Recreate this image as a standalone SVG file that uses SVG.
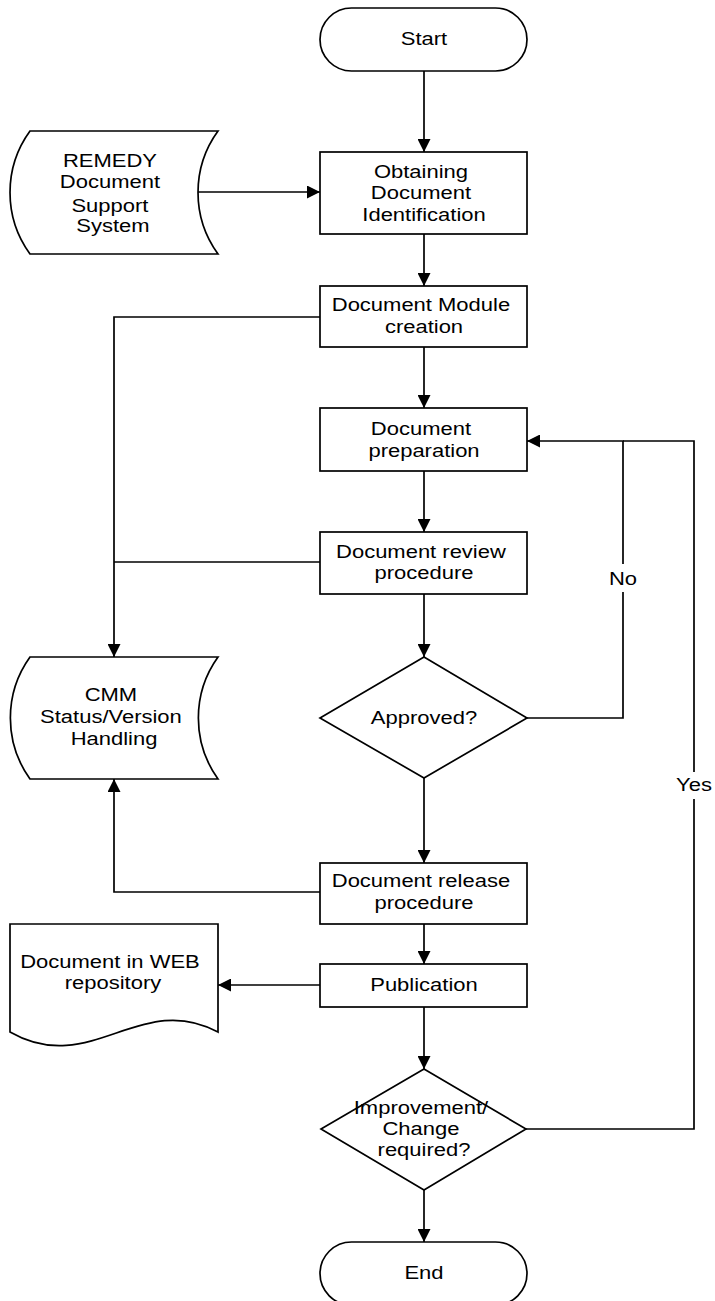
<svg xmlns="http://www.w3.org/2000/svg" width="715" height="1301" viewBox="0 0 715 1301">
  <style>
    .shape { fill: #ffffff; stroke: #000000; stroke-width: 1.7; }
    .wire { fill: none; stroke: #000000; stroke-width: 1.7; }
    .lbl { font-family: "Liberation Sans", Arial, sans-serif; font-size: 17.5px; fill: #000000; text-anchor: middle; }
    .gap { fill: #ffffff; stroke: none; }
  </style>
  <defs>
    <marker id="arrow" markerUnits="userSpaceOnUse" markerWidth="13" markerHeight="13" refX="13" refY="6.5" orient="auto">
      <path d="M0,0 L13,6.5 L0,13 Z" fill="#000000"/>
    </marker>
  </defs>

  <rect width="715" height="1301" fill="#ffffff"/>

  <!-- connectors -->
  <g id="connectors">
    <path class="wire" d="M424,71 V152" marker-end="url(#arrow)"/>
    <path class="wire" d="M198,192 H320" marker-end="url(#arrow)"/>
    <path class="wire" d="M424,234 V286" marker-end="url(#arrow)"/>
    <path class="wire" d="M320,317 H114 V657" marker-end="url(#arrow)"/>
    <path class="wire" d="M424,347 V408" marker-end="url(#arrow)"/>
    <path class="wire" d="M424,471 V532" marker-end="url(#arrow)"/>
    <path class="wire" d="M320,562 H114"/>
    <path class="wire" d="M424,594 V657" marker-end="url(#arrow)"/>
    <path class="wire" d="M527,718 H623 V441 H527" marker-end="url(#arrow)"/>
    <path class="wire" d="M424,778 V863" marker-end="url(#arrow)"/>
    <path class="wire" d="M320,892 H114 V779" marker-end="url(#arrow)"/>
    <path class="wire" d="M424,924 V964" marker-end="url(#arrow)"/>
    <path class="wire" d="M320,985 H218" marker-end="url(#arrow)"/>
    <path class="wire" d="M424,1007 V1069" marker-end="url(#arrow)"/>
    <path class="wire" d="M526,1129 H694 V441 H623"/>
    <path class="wire" d="M424,1190 V1242" marker-end="url(#arrow)"/>
    <!-- branch labels -->
    <rect class="gap" x="610" y="564" width="26" height="28"/>
    <text class="lbl" transform="translate(623,585) scale(1.257,1)">No</text>
    <rect class="gap" x="678" y="772" width="32" height="27"/>
    <text class="lbl" transform="translate(694,791) scale(1.257,1)">Yes</text>
  </g>

  <g id="start">
    <rect class="shape" x="320" y="8" width="207" height="63" rx="31.5" ry="31.5"/>
    <text class="lbl" transform="translate(424,45) scale(1.257,1)">Start</text>
  </g>

  <g id="remedy">
    <path class="shape" d="M30,131 H218 A104.6,104.6 0 0 0 218,254 H30 A104.6,104.6 0 0 1 30,131 Z"/>
    <text class="lbl" transform="translate(113,0) scale(1.257,1)">
      <tspan x="0" y="167.5">REMEDY</tspan>
      <tspan x="0" y="188.5">Document</tspan>
      <tspan x="0" y="212">Support</tspan>
      <tspan x="0" y="232">System</tspan>
    </text>
  </g>

  <g id="obtaining">
    <rect class="shape" x="320" y="152" width="207" height="82"/>
    <text class="lbl" transform="translate(424,0) scale(1.257,1)">
      <tspan x="0" y="178">Obtaining</tspan>
      <tspan x="0" y="199.5">Document</tspan>
      <tspan x="0" y="221">Identification</tspan>
    </text>
  </g>

  <g id="module">
    <rect class="shape" x="320" y="286" width="207" height="61"/>
    <text class="lbl" transform="translate(424,0) scale(1.257,1)">
      <tspan x="0" y="311">Document Module</tspan>
      <tspan x="0" y="333">creation</tspan>
    </text>
  </g>

  <g id="preparation">
    <rect class="shape" x="320" y="408" width="207" height="63"/>
    <text class="lbl" transform="translate(424,0) scale(1.257,1)">
      <tspan x="0" y="435">Document</tspan>
      <tspan x="0" y="457">preparation</tspan>
    </text>
  </g>

  <g id="review">
    <rect class="shape" x="320" y="532" width="207" height="62"/>
    <text class="lbl" transform="translate(424,0) scale(1.257,1)">
      <tspan x="0" y="558">Document review</tspan>
      <tspan x="0" y="579">procedure</tspan>
    </text>
  </g>

  <g id="cmm">
    <path class="shape" d="M30,657 H218 A104.6,104.6 0 0 0 218,779 H30 A104.6,104.6 0 0 1 30,657 Z"/>
    <text class="lbl" transform="translate(114,0) scale(1.257,1)">
      <tspan x="0" y="701">CMM</tspan>
      <tspan x="0" y="723">Status/Version</tspan>
      <tspan x="0" y="745">Handling</tspan>
    </text>
  </g>

  <g id="approved">
    <path class="shape" d="M424,657 L527,718 L424,778 L320,718 Z"/>
    <text class="lbl" transform="translate(424,724) scale(1.257,1)">Approved?</text>
  </g>

  <g id="release">
    <rect class="shape" x="320" y="863" width="207" height="61"/>
    <text class="lbl" transform="translate(424,0) scale(1.257,1)">
      <tspan x="0" y="887">Document release</tspan>
      <tspan x="0" y="909">procedure</tspan>
    </text>
  </g>

  <g id="publication">
    <rect class="shape" x="320" y="964" width="207" height="43"/>
    <text class="lbl" transform="translate(424,991) scale(1.257,1)">Publication</text>
  </g>

  <g id="web-document">
    <path class="shape" d="M10,924 H218 V1032 C140,990 90,1078 10,1032 Z"/>
    <text class="lbl" transform="translate(113,0) scale(1.257,1)">
      <tspan x="0" y="968">Document in WEB</tspan>
      <tspan x="0" y="989">repository</tspan>
    </text>
  </g>

  <g id="change-required">
    <path class="shape" d="M424,1069 L526,1129 L424,1190 L321,1129 Z"/>
    <text class="lbl" transform="translate(424,0) scale(1.257,1)">
      <tspan x="0" y="1114">Improvement/</tspan>
      <tspan x="0" y="1135">Change</tspan>
      <tspan x="0" y="1156">required?</tspan>
    </text>
  </g>

  <g id="end">
    <rect class="shape" x="320" y="1242" width="207" height="63" rx="31.5" ry="31.5"/>
    <text class="lbl" transform="translate(424,1279) scale(1.257,1)">End</text>
  </g>
</svg>
